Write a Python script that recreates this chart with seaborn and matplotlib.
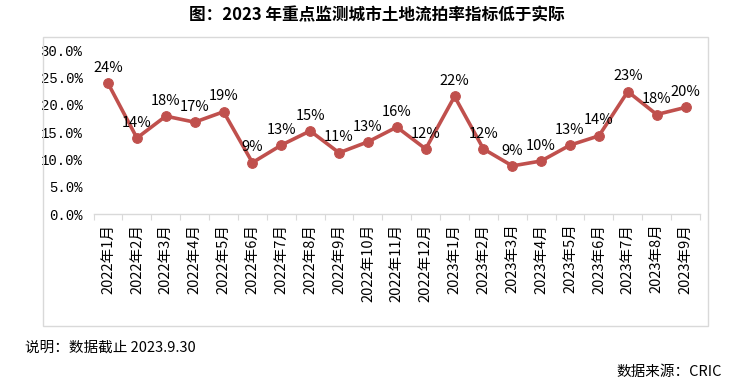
import matplotlib
matplotlib.use("Agg")
import matplotlib.pyplot as plt
import seaborn as sns
import pandas as pd
import numpy as np
from matplotlib.patches import Rectangle
from matplotlib.ticker import FixedLocator, PercentFormatter

months = ["2022年1月", "2022年2月", "2022年3月", "2022年4月", "2022年5月", "2022年6月",
          "2022年7月", "2022年8月", "2022年9月", "2022年10月", "2022年11月", "2022年12月",
          "2023年1月", "2023年2月", "2023年3月", "2023年4月", "2023年5月", "2023年6月",
          "2023年7月", "2023年8月", "2023年9月"]
rates = [0.239, 0.139, 0.179, 0.168, 0.187, 0.094, 0.126, 0.152, 0.112, 0.132, 0.159, 0.119,
         0.215, 0.119, 0.088, 0.097, 0.126, 0.143, 0.224, 0.182, 0.195]
labels = ["24%", "14%", "18%", "17%", "19%", "9%", "13%", "15%", "11%", "13%", "16%", "12%",
          "22%", "12%", "9%", "10%", "13%", "14%", "23%", "18%", "20%"]
yticks = [0.0, 0.05, 0.10, 0.15, 0.20, 0.25, 0.30]

sns.set_theme(style="white")
plt.rcParams['font.family'] = ['Noto Sans CJK SC', 'DejaVu Sans']

W, H = 739, 386
fig = plt.figure(figsize=(W / 100, H / 100), dpi=100)

# outer border
fig.patches.append(Rectangle((43 / W, 1 - 326 / H), (708 - 43) / W, (326 - 37) / H,
                             transform=fig.transFigure, fill=False, edgecolor="#D9D9D9",
                             linewidth=1.0, zorder=0))

ax = fig.add_axes([93.6 / W, 1 - 214 / H, (700 - 93.6) / W, (214 - 50) / H])
df = pd.DataFrame({"idx": np.arange(len(months)), "rate": rates})
color = "#C0504D"
sns.lineplot(data=df, x="idx", y="rate", ax=ax, color=color, linewidth=2.6,
             marker="o", markersize=7, markeredgecolor=color, markerfacecolor=color)

for i, (v, lab) in enumerate(zip(rates, labels)):
    ax.annotate(lab, (i, v), xytext=(0, 6), textcoords="offset points",
                ha="center", va="bottom", fontsize=10.5, color="#000000")

ax.set_xlim(-0.5, len(months) - 0.5)
ax.set_ylim(0, 0.30)
ax.set_yticks(yticks)
ax.yaxis.set_major_formatter(PercentFormatter(1.0, decimals=1))
ax.set_xticks(np.arange(len(months)))
ax.set_xticklabels(months, rotation=90, fontsize=10.5, color="#000000")
ax.xaxis.set_minor_locator(FixedLocator(np.arange(-0.5, len(months), 1.0)))
ax.tick_params(axis="x", which="major", length=0, pad=7)
ax.tick_params(axis="x", which="minor", length=4, width=0.8, color="#D9D9D9", bottom=True)
ax.tick_params(axis="y", length=0, labelsize=10, labelcolor="#000000", pad=8)
for t in ax.get_yticklabels():
    t.set_family(["Liberation Mono", "DejaVu Sans Mono"])
ax.set_xlabel("")
ax.set_ylabel("")
for s in ["top", "right", "left"]:
    ax.spines[s].set_visible(False)
ax.spines["bottom"].set_color("#D9D9D9")
ax.spines["bottom"].set_linewidth(1.0)
ax.grid(False)
ax.set_facecolor("none")

fig.text(377 / W, 1 - 15 / H, "图：2023 年重点监测城市土地流拍率指标低于实际",
         ha="center", va="center", fontsize=12, fontweight="bold", color="#000000")
fig.text(25 / W, 1 - 348 / H, "说明：数据截止 2023.9.30", ha="left", va="center",
         fontsize=10.5, color="#000000")
fig.text(722 / W, 1 - 372 / H, "数据来源：CRIC", ha="right", va="center",
         fontsize=10.5, color="#000000")

fig.savefig("out.png", dpi=100)
